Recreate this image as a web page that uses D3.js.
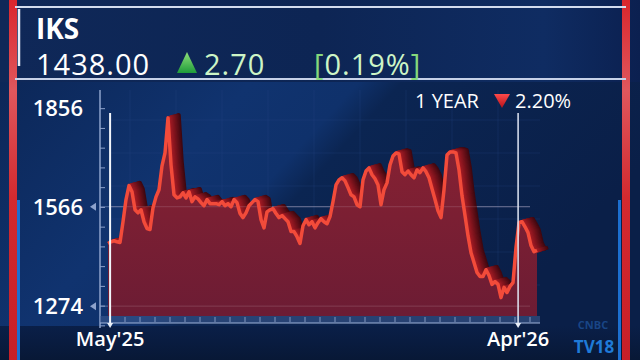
<!DOCTYPE html>
<html>
<head>
<meta charset="utf-8">
<script src="https://cdn.jsdelivr.net/npm/d3@7"></script>
<style>
html, body { margin: 0; padding: 0; background: #0a1c42; overflow: hidden; }
svg { display: block; }
text { font-family: "Open Sans", sans-serif; }
</style>
</head>
<body>
<svg id="chart" width="640" height="360"></svg>
<script>
// daily closes, May'25 -> Apr'26
const prices = [
    1458, 1463, 1466, 1463, 1461, 1522, 1587, 1628, 1610, 1557,
    1548, 1557, 1522, 1502, 1499, 1563, 1595, 1616, 1686, 1724,
    1827, 1689, 1601, 1592, 1595, 1607, 1592, 1610, 1581, 1595,
    1589, 1578, 1569, 1587, 1575, 1575, 1575, 1572, 1581, 1569,
    1575, 1566, 1587, 1578, 1546, 1534, 1548, 1569, 1578, 1587,
    1581, 1528, 1504, 1551, 1557, 1560, 1546, 1534, 1540, 1531,
    1522, 1493, 1493, 1478, 1458, 1510, 1528, 1513, 1522, 1504,
    1519, 1531, 1522, 1516, 1537, 1581, 1630, 1645, 1651, 1642,
    1622, 1601, 1595, 1572, 1566, 1645, 1671, 1680, 1660, 1648,
    1630, 1572, 1616, 1636, 1689, 1715, 1724, 1721, 1669, 1660,
    1671, 1660, 1651, 1674, 1666, 1680, 1669, 1651, 1619, 1587,
    1554, 1534, 1616, 1718, 1727, 1727, 1724, 1674, 1598, 1540,
    1481, 1431, 1402, 1373, 1361, 1361, 1381, 1364, 1338, 1346,
    1338, 1299, 1329, 1314, 1332, 1343, 1446, 1519, 1522, 1507,
    1490, 1452, 1434, 1438
];
const yTicks = [1274, 1566, 1856];
const yArrowTicks = [1274, 1566];
const xTickLabels = ["May'25", "Apr'26"];
const xTickAt = [0.7, 136.7];

const ticker = 'IKS';
const lastPrice = '1438.00';
const change = '2.70';
const changePct = '0.19%';
const periodLabel = '1 YEAR';
const periodPct = '2.20%';

const svg = d3.select('#chart');
const defs = svg.append('defs');

function linGrad(id, x1, y1, x2, y2, stops) {
    const g = defs.append('linearGradient').attr('id', id)
        .attr('x1', x1).attr('y1', y1).attr('x2', x2).attr('y2', y2);
    stops.forEach(s => g.append('stop').attr('offset', s[0]).attr('stop-color', s[1]).attr('stop-opacity', s[2] == null ? 1 : s[2]));
}

linGrad('bgHead', 0, 0, 1, 0, [[0, '#0f2858'], [0.5, '#0d2554'], [0.85, '#0f2c62'], [1, '#0b2050']]);
linGrad('bgChart', 0, 0, 1, 0.35, [[0, '#0c2758'], [0.35, '#10336f'], [0.5, '#0f316b'], [0.56, '#0b2552'], [1, '#0a1f48']]);
linGrad('bgBottom', 0, 0, 0, 1, [[0, '#0a1f48'], [1, '#081836']]);
linGrad('areaFill', 0, 0, 0, 1, [[0, '#8a2232'], [1, '#6c1c34']]);
linGrad('redBar', 0, 0, 0, 1, [[0, '#d9262c'], [0.25, '#e0575d'], [0.55, '#d22a2f'], [1, '#c71f27']]);
linGrad('greenTri', 0, 0, 0, 1, [[0, '#8fe07a'], [1, '#1f9c3a']]);
linGrad('redTri', 0, 0, 0, 1, [[0, '#ff4a4a'], [1, '#b3121a']]);
linGrad('gridFade', 0, 0, 1, 0, [[0, '#a9bbe0', 0], [0.3, '#a9bbe0', 0.6], [1, '#a9bbe0', 0.6]]);

// background panels
svg.append('rect').attr('width', 640).attr('height', 360).attr('fill', '#0a1c42');
svg.append('rect').attr('x', 0).attr('y', 0).attr('width', 640).attr('height', 82).attr('fill', 'url(#bgHead)');
svg.append('rect').attr('x', 0).attr('y', 82).attr('width', 640).attr('height', 244).attr('fill', 'url(#bgChart)');
svg.append('rect').attr('x', 0).attr('y', 326).attr('width', 640).attr('height', 34).attr('fill', 'url(#bgBottom)');

// faint background grid
const bgGrid = svg.append('g').attr('stroke', '#2a4c8a').attr('stroke-opacity', 0.25).attr('stroke-width', 1);
d3.range(130, 540, 46).forEach(x => bgGrid.append('line').attr('x1', x).attr('x2', x).attr('y1', 90).attr('y2', 315));
d3.range(120, 315, 33).forEach(y => bgGrid.append('line').attr('x1', 110).attr('x2', 540).attr('y1', y).attr('y2', y));

// side bars
svg.append('rect').attr('x', 9).attr('y', 0).attr('width', 8).attr('height', 360).attr('fill', 'url(#redBar)');
svg.append('rect').attr('x', 17).attr('y', 200).attr('width', 3).attr('height', 160).attr('fill', '#1c6fd0');
svg.append('rect').attr('x', 622).attr('y', 0).attr('width', 8).attr('height', 360).attr('fill', 'url(#redBar)');
svg.append('rect').attr('x', 618).attr('y', 200).attr('width', 3).attr('height', 160).attr('fill', '#1c6fd0');

// header rules
svg.append('line').attr('x1', 15).attr('x2', 626).attr('y1', 7).attr('y2', 7)
    .attr('stroke', '#d3dcee').attr('stroke-width', 2);
svg.append('line').attr('x1', 15).attr('x2', 626).attr('y1', 79).attr('y2', 79)
    .attr('stroke', '#c6d1e8').attr('stroke-width', 2);
svg.append('line').attr('x1', 19).attr('x2', 19).attr('y1', 9).attr('y2', 66)
    .attr('stroke', '#e8eef8').attr('stroke-width', 2.5);

// header text
const headFont = 'Roboto, sans-serif';
svg.append('text').attr('x', 36).attr('y', 39).text(ticker)
    .attr('font-family', headFont)
    .attr('fill', '#fff').attr('font-size', 28).attr('font-weight', 700);
svg.append('text').attr('x', 36).attr('y', 75).text(lastPrice)
    .attr('font-family', headFont).attr('letter-spacing', 1)
    .attr('fill', '#fff').attr('font-size', 29).attr('font-weight', 500);
svg.append('path').attr('d', 'M177,73L187,52L197,73Z').attr('fill', 'url(#greenTri)');
svg.append('text').attr('x', 204).attr('y', 75).text(change)
    .attr('font-family', headFont).attr('letter-spacing', 1)
    .attr('fill', '#cdf5c6').attr('font-size', 29).attr('font-weight', 500);
const pct = svg.append('text').attr('x', 314).attr('y', 75)
    .attr('font-family', headFont).attr('letter-spacing', 1)
    .attr('font-size', 29).attr('font-weight', 500).attr('fill', '#cdf5c6');
pct.append('tspan').text('[').attr('fill', '#86d87c');
pct.append('tspan').text(changePct);
pct.append('tspan').text(']').attr('fill', '#86d87c');

// scales
const x = d3.scaleLinear().domain([0, prices.length - 1]).range([108, 537]);
const y = d3.scaleLinear().domain([1245, 1856]).range([316, 108]);
const base = y.domain()[0];

// gridlines
const grid = svg.append('g');
[1566, 1274].forEach(v => grid.append('line')
    .attr('x1', 100).attr('x2', 530).attr('y1', y(v)).attr('y2', y(v))
    .attr('stroke', '#a9bbe0').attr('stroke-opacity', 0.45));
grid.append('line').attr('x1', 300).attr('x2', 540).attr('y1', y(1856) - 3).attr('y2', y(1856) - 3)
    .attr('stroke', 'url(#gridFade)').attr('stroke-width', 1.2);

// y axis
const axisG = svg.append('g');
axisG.append('line').attr('x1', 100).attr('x2', 100).attr('y1', 90).attr('y2', 328)
    .attr('stroke', '#8ea3cc').attr('stroke-width', 1.5);
d3.range(1216, 1900, 58).forEach(v => axisG.append('line')
    .attr('x1', 100).attr('x2', 105).attr('y1', y(v)).attr('y2', y(v))
    .attr('stroke', '#8ea3cc').attr('stroke-width', 1));
axisG.selectAll('text.ylab').data(yTicks).enter().append('text')
    .attr('class', 'ylab')
    .attr('x', 83).attr('y', d => y(d)).attr('dy', '0.36em')
    .attr('text-anchor', 'end')
    .attr('fill', '#fff').attr('font-size', 22).attr('font-weight', 600)
    .text(d => d);
axisG.selectAll('path.yarrow').data(yArrowTicks).enter().append('path')
    .attr('class', 'yarrow')
    .attr('d', d => 'M90,' + y(d) + 'L96,' + (y(d) - 4) + 'L96,' + (y(d) + 4) + 'Z')
    .attr('fill', '#8ea3cc');

// bottom tick strip
const strip = svg.append('g');
strip.append('rect').attr('x', 100).attr('y', 316).attr('width', 440).attr('height', 7)
    .attr('fill', '#3f5d94').attr('fill-opacity', 0.55);
strip.append('line').attr('x1', 100).attr('x2', 540).attr('y1', 323).attr('y2', 323)
    .attr('stroke', '#9fb3da').attr('stroke-width', 1.2);
d3.range(0, prices.length, 5).forEach(i => strip.append('line')
    .attr('x1', x(i) + 2).attr('x2', x(i) + 2).attr('y1', 317).attr('y2', 322)
    .attr('stroke', '#a8bbe0').attr('stroke-opacity', 0.7));

// 3d ribbon: stacked offset copies of the line behind the area
const line = d3.line().x((d, i) => x(i)).y(d => y(d));
const area = d3.area().x((d, i) => x(i)).y0(y(base)).y1(d => y(d));
const depth = 14, dx = 11, dy = -3;
const shade = d3.interpolateRgb('#3e0810', '#a81c25');
const ribbon = svg.append('g');
for (let k = depth; k >= 1; k--) {
    ribbon.append('path').datum(prices)
        .attr('d', line)
        .attr('transform', 'translate(' + (k * dx / depth) + ',' + (k * dy / depth) + ')')
        .attr('fill', 'none')
        .attr('stroke', shade(1 - k / depth))
        .attr('stroke-width', 3.5)
        .attr('stroke-linejoin', 'round');
}

svg.append('path').datum(prices).attr('d', area).attr('fill', 'url(#areaFill)');

// gridlines show faintly through the fill
[1566, 1274].forEach(v => svg.append('line')
    .attr('x1', 110).attr('x2', 530).attr('y1', y(v)).attr('y2', y(v))
    .attr('stroke', '#c9a0b0').attr('stroke-opacity', 0.25));

svg.append('path').datum(prices).attr('d', line)
    .attr('fill', 'none')
    .attr('stroke', '#f24b3a')
    .attr('stroke-width', 3.5)
    .attr('stroke-linejoin', 'round');

// period markers + x labels
xTickAt.forEach((t, i) => {
    const px = x(t);
    svg.append('line').attr('x1', px).attr('x2', px).attr('y1', 113).attr('y2', 324)
        .attr('stroke', i === 0 ? '#f2f5fb' : '#dfe6f4').attr('stroke-width', i === 0 ? 2 : 1.5);
    svg.append('path').attr('d', 'M' + (px - 3) + ',323L' + (px + 3) + ',323L' + px + ',328Z').attr('fill', '#e8eef8');
    svg.append('text').attr('x', px).attr('y', 346).attr('text-anchor', 'middle')
        .attr('fill', '#fff').attr('font-size', 20).attr('font-weight', 600)
        .text(xTickLabels[i]);
});

// period change label
svg.append('text').attr('x', 415).attr('y', 108).text(periodLabel)
    .attr('fill', '#fff').attr('font-size', 20).attr('font-weight', 500);
svg.append('path').attr('d', 'M494,94L510,94L502,108Z').attr('fill', 'url(#redTri)');
svg.append('text').attr('x', 515).attr('y', 108).text(periodPct)
    .attr('fill', '#fff').attr('font-size', 20).attr('font-weight', 500);

// channel logo
svg.append('text').attr('x', 593).attr('y', 329).attr('text-anchor', 'middle').text('CNBC')
    .attr('font-family', headFont)
    .attr('fill', '#1d4f96').attr('font-size', 11).attr('font-weight', 700).attr('opacity', 0.8);
svg.append('text').attr('x', 594).attr('y', 353).attr('text-anchor', 'middle').text('TV18')
    .attr('font-family', headFont)
    .attr('fill', '#1f7ad8').attr('font-size', 17).attr('font-weight', 700);
</script>
</body>
</html>
